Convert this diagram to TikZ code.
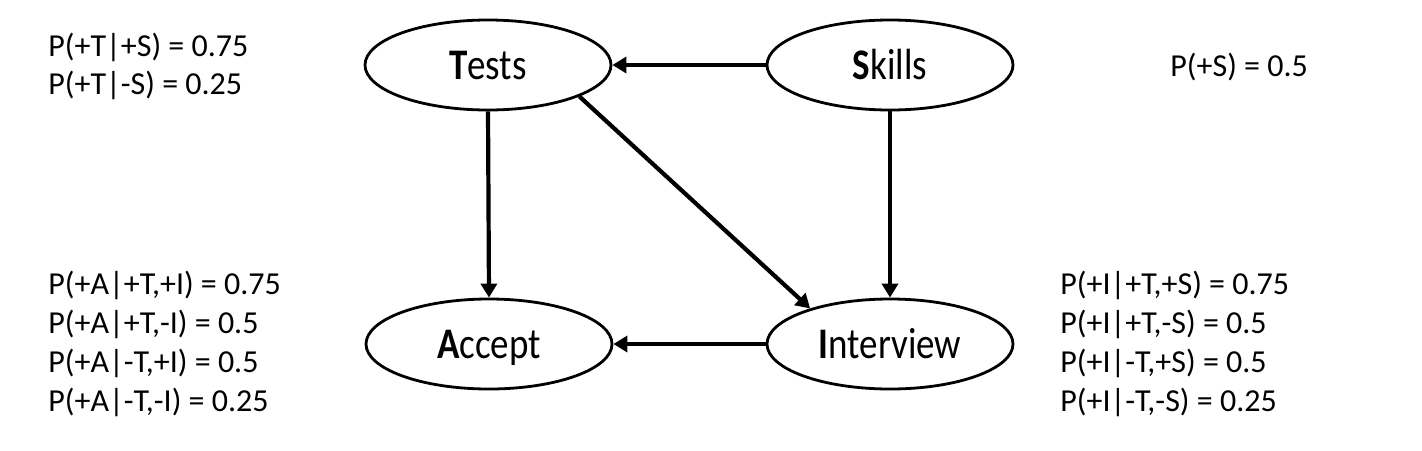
\documentclass[tikz,border=0pt]{standalone}
\usepackage{fontspec}
\setmainfont{Carlito}
\usetikzlibrary{arrows.meta,shapes.geometric}
\newcommand{\tallbox}[1]{\scalebox{1}[1.18]{#1}}
\begin{document}
\begin{tikzpicture}[x=0.5pt,y=-0.5pt,
  var/.style={draw,line width=1.4pt,ellipse,minimum width=123pt,minimum height=45pt,inner sep=0pt,text height=14.2pt,text depth=0pt,font=\fontsize{18.5}{22}\selectfont},
  prob/.style={anchor=west,inner sep=0pt,font=\fontsize{16}{19}\selectfont},
  edge/.style={line width=2.1pt,-{Triangle[length=7pt,width=8pt]}}]
\useasboundingbox (0,0) rectangle (1422,450);
\node[var] (T) at (488,65) {\tallbox{\textbf{T}ests}};
\node[var] (S) at (890,65) {\tallbox{\textbf{S}kills}};
\node[var] (A) at (489,344) {\tallbox{\textbf{A}ccept}};
\node[var] (I) at (890,344) {\tallbox{\textbf{I}nterview}};
\draw[edge] (S.west) -- (T.east);
\draw[edge] (I.west) -- (A.east);
\draw[edge] (T.south) -- (A.north);
\draw[edge] (S.south) -- (I.north);
\draw[edge] (T.-19) -- (I.156);
\node[prob] (p1) at (48,47) {P(+T|+S) = 0.75};
\node[prob] (p2) at (48,85) {P(+T|-S) = 0.25};
\node[prob] (p3) at (1170,67) {P(+S) = 0.5};
\node[prob] (p4) at (48,285) {P(+A|+T,+I) = 0.75};
\node[prob] (p5) at (48,324) {P(+A|+T,-I) = 0.5};
\node[prob] (p6) at (48,363) {P(+A|-T,+I) = 0.5};
\node[prob] (p7) at (48,402) {P(+A|-T,-I) = 0.25};
\node[prob] (p8) at (1060,285) {P(+I|+T,+S) = 0.75};
\node[prob] (p9) at (1060,324) {P(+I|+T,-S) = 0.5};
\node[prob] (p10) at (1060,363) {P(+I|-T,+S) = 0.5};
\node[prob] (p11) at (1060,402) {P(+I|-T,-S) = 0.25};
\end{tikzpicture}
\end{document}
